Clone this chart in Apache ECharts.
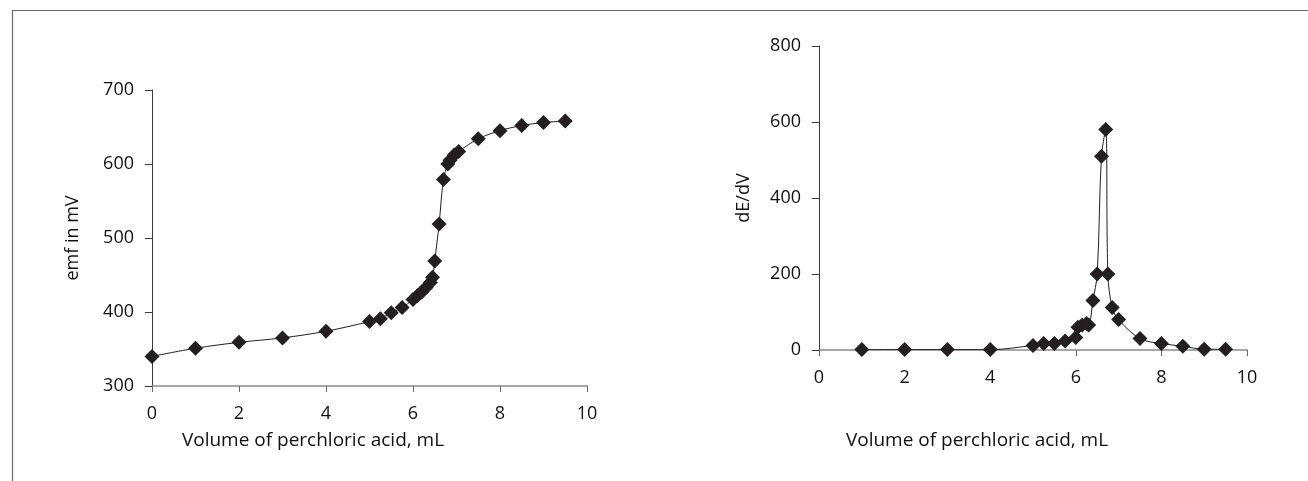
<!DOCTYPE html>
<html>
<head>
<meta charset="utf-8">
<script src="https://cdn.jsdelivr.net/npm/echarts@6/dist/echarts.min.js"></script>
<style>
html,body{margin:0;padding:0;background:#fff;}
#c{width:1308px;height:481px;}
</style>
</head>
<body>
<div id="c"></div>
<script>
// Left chart: titration curve (emf vs volume)
const emfVolume = [0,1,2,3,4,5,5.25,5.5,5.75,6,6.1,6.2,6.3,6.4,6.45,6.5,6.6,6.7,6.8,6.85,6.95,7.05,7.5,8,8.5,9,9.5];
const emfValues = [340,351,359,365,374,387,391,399,406,417,422,427,433,440,447,469,519,579,600,605,612,617,634,645,652,656,658];
// Right chart: first derivative (dE/dV vs volume)
const derivVolume = [1,2,3,4,5,5.25,5.5,5.75,6,6.05,6.15,6.25,6.3,6.4,6.5,6.6,6.7,6.75,6.85,7,7.5,8,8.5,9,9.5];
const derivValues = [1,1,1,1,12,17,17,24,33,60,66,70,66,130,200,510,580,200,112,80,30,17,10,2,2];
// Axis tick settings
const xTicks = {min:0, max:10, interval:2};
const emfTicks = {min:300, max:700, interval:100};
const derivTicks = {min:0, max:800, interval:200};
const xTitle = 'Volume of perchloric acid, mL';
const emfTitle = 'emf in mV';
const derivTitle = 'dE/dV';

const FONT = 'Open Sans';
const INK = '#231f20';

function pairs(xs, ys){ return xs.map((x,i)=>[x, ys[i]]); }

function xAxis(idx){
  return {
    type:'value', gridIndex:idx, min:xTicks.min, max:xTicks.max, interval:xTicks.interval,
    axisLine:{show:true, onZero:false, lineStyle:{color:'#8a8a8a', width:1.5}},
    axisTick:{show:true, inside:false, length:6, lineStyle:{color:'#6a6a6a', width:1}},
    axisLabel:{margin:19, color:'#111', fontFamily:FONT, fontSize:18},
    splitLine:{show:false}
  };
}
function yAxis(idx, t, name, gap){
  return {
    type:'value', gridIndex:idx, min:t.min, max:t.max, interval:t.interval,
    name:name, nameLocation:'middle', nameGap:gap, nameRotate:90,
    nameTextStyle:{color:'#111', fontFamily:FONT, fontSize:18},
    axisLine:{show:true, lineStyle:{color:'#3a3a3a', width:1}},
    axisTick:{show:true, inside:false, length:7, lineStyle:{color:'#3a3a3a', width:1}},
    axisLabel:{margin:18, color:'#111', fontFamily:FONT, fontSize:18},
    splitLine:{show:false}
  };
}
function series(xi, yi, data){
  return {
    type:'line', xAxisIndex:xi, yAxisIndex:yi, data:data, smooth:0.35,
    symbol:'diamond', symbolSize:15, showAllSymbol:true,
    lineStyle:{color:INK, width:1}, itemStyle:{color:INK},
    emphasis:{disabled:true}, z:3
  };
}

const chart = echarts.init(document.getElementById('c'), null, {renderer:'canvas'});
chart.setOption({
  animation:false,
  backgroundColor:'#fff',
  grid:[
    {left:152, top:90, width:435, height:296, containLabel:false},
    {left:819, top:46, width:428, height:304, containLabel:false}
  ],
  xAxis:[xAxis(0), xAxis(1)],
  yAxis:[yAxis(0, emfTicks, emfTitle, 70), yAxis(1, derivTicks, derivTitle, 66)],
  series:[
    series(0, 0, pairs(emfVolume, emfValues)),
    series(1, 1, pairs(derivVolume, derivValues))
  ],
  graphic:[
    {type:'line', shape:{x1:12, y1:10.5, x2:1308, y2:10.5}, style:{stroke:'#6a6a6a', lineWidth:1.2}, silent:true},
    {type:'line', shape:{x1:12.5, y1:10, x2:12.5, y2:481}, style:{stroke:'#6a6a6a', lineWidth:1.2}, silent:true},
    {type:'text', x:313, y:441, style:{text:xTitle, fill:'#111', font:'19px "Open Sans"', textAlign:'center', textVerticalAlign:'middle'}, silent:true},
    {type:'text', x:977, y:441, style:{text:xTitle, fill:'#111', font:'19px "Open Sans"', textAlign:'center', textVerticalAlign:'middle'}, silent:true}
  ]
});
</script>
</body>
</html>
